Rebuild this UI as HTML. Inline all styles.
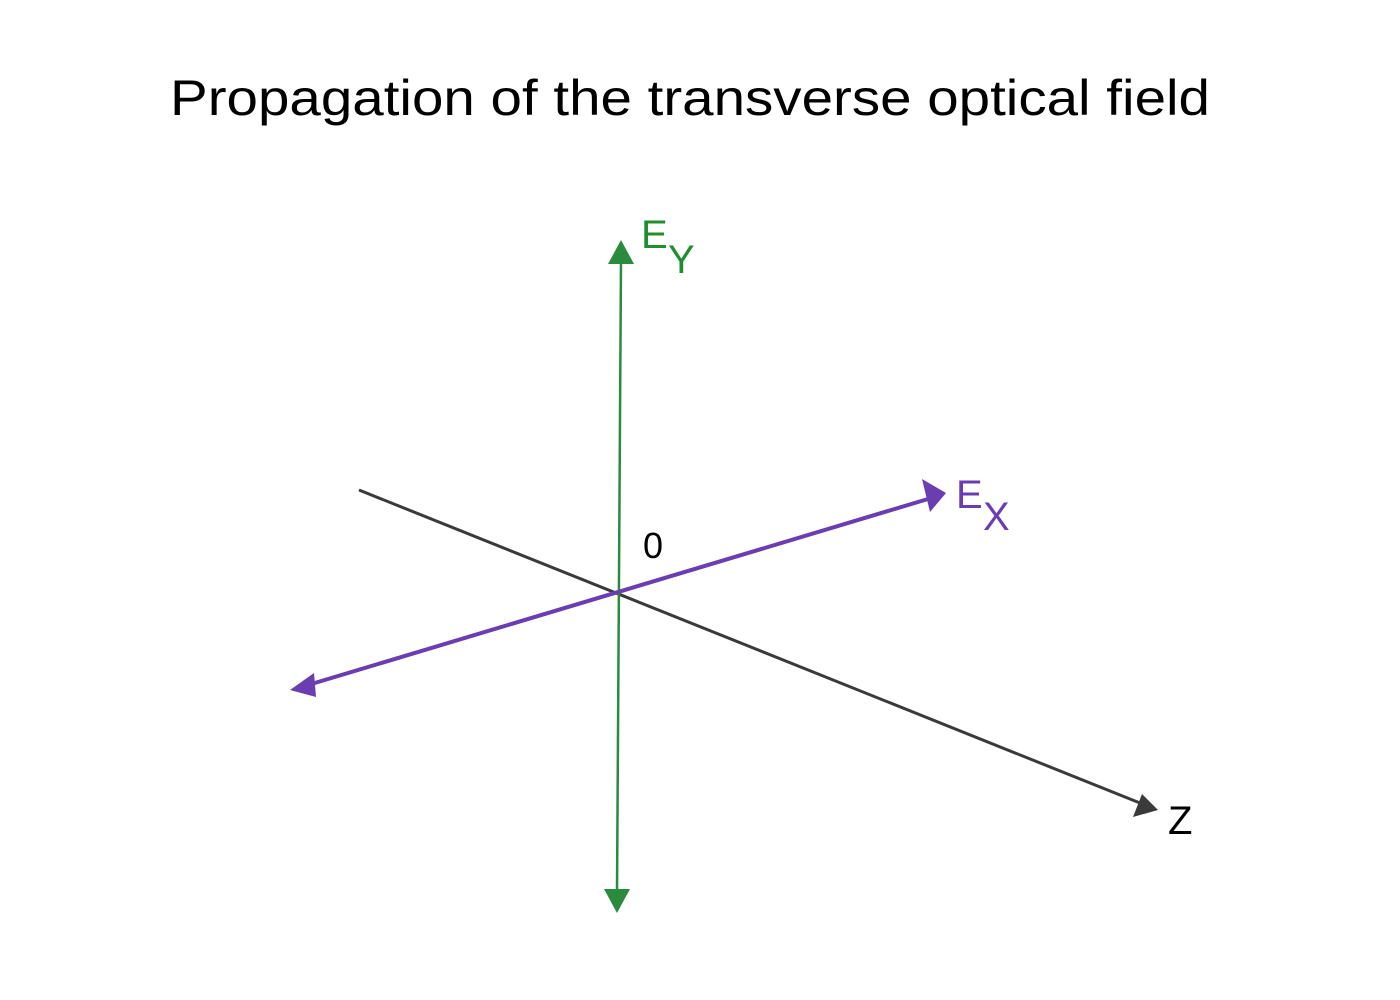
<!DOCTYPE html>
<html><head><style>html,body{margin:0;padding:0;background:#fff;}svg{display:block;}</style></head>
<body>
<svg width="1400" height="1000" xmlns="http://www.w3.org/2000/svg">
<text x="690" y="115" text-anchor="middle" font-family="Liberation Sans, sans-serif" font-size="50" fill="#000" textLength="1040" lengthAdjust="spacingAndGlyphs">Propagation of the transverse optical field</text>
<!-- Z axis -->
<line x1="359" y1="490" x2="1140" y2="803" stroke="#3a3a3a" stroke-width="3"/>
<polygon points="1158,810 1133,817 1142,794" fill="#3a3a3a"/>
<text x="1168" y="834" font-family="Liberation Sans, sans-serif" font-size="40" fill="#000">Z</text>
<!-- Ey axis -->
<line x1="621" y1="260" x2="617" y2="892" stroke="#2a8a3e" stroke-width="2.5"/>
<polygon points="621,240 608,264 634,264" fill="#2a8a3e"/>
<polygon points="617,913 604,889 630,889" fill="#2a8a3e"/>
<text x="641" y="248" font-family="Liberation Sans, sans-serif" font-size="40" fill="#1e8f2e">E</text>
<text x="668" y="273" font-family="Liberation Sans, sans-serif" font-size="40" fill="#1e8f2e">Y</text>
<!-- Ex axis -->
<line x1="308" y1="685" x2="928" y2="499" stroke="#6a3db0" stroke-width="4"/>
<polygon points="946,493 922,479 930,512" fill="#6a3db0"/>
<polygon points="290,690 314,673 316,697" fill="#6a3db0"/>
<text x="956" y="508" font-family="Liberation Sans, sans-serif" font-size="40" fill="#6a3db0">E</text>
<text x="983" y="530" font-family="Liberation Sans, sans-serif" font-size="40" fill="#6a3db0">X</text>
<text x="643" y="558" font-family="Liberation Sans, sans-serif" font-size="36" fill="#000">0</text>
</svg>
</body></html>
